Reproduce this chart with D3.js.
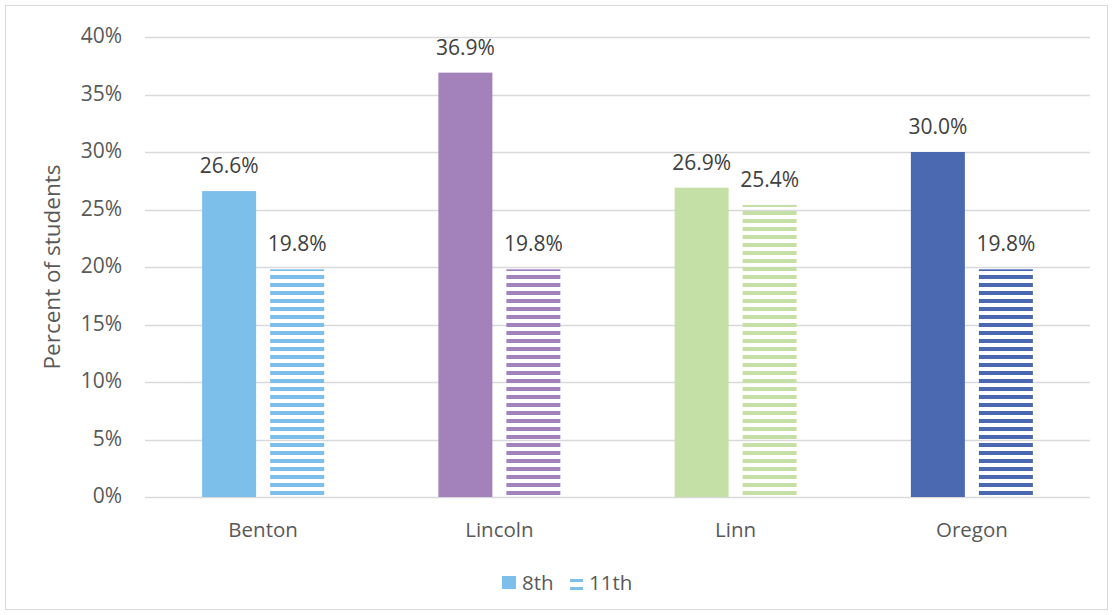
<!DOCTYPE html>
<html>
<head>
<meta charset="utf-8">
<script src="https://cdn.jsdelivr.net/npm/d3@7"></script>
<style>
  body { margin: 0; background: #fff; }
  svg { font-family: "Open Sans", "Liberation Sans", sans-serif; }
</style>
</head>
<body>
<div id="container"></div>
<script>
const counties = ["Benton", "Lincoln", "Linn", "Oregon"];
const grades = ["8th", "11th"];
const values8th = [26.6, 36.9, 26.9, 30.0];
const values11th = [19.8, 19.8, 25.4, 19.8];
const yTicks = [0, 5, 10, 15, 20, 25, 30, 35, 40];
const countyColors = ["#7cbfea", "#a381ba", "#c5e0a6", "#4b69b1"];

const width = 1113, height = 615;
const margin = {top: 37, right: 23, bottom: 118, left: 145};

const svg = d3.select("#container")
  .append("svg")
  .attr("width", width)
  .attr("height", height);

// outer frame
svg.append("rect")
  .attr("x", 5.5).attr("y", 5.5)
  .attr("width", width - 11).attr("height", height - 11)
  .attr("fill", "none")
  .attr("stroke", "#d9d9d9");

const defs = svg.append("defs");
countyColors.forEach((c, i) => {
  const p = defs.append("pattern")
    .attr("id", "stripe" + i)
    .attr("patternUnits", "userSpaceOnUse")
    .attr("x", 0).attr("y", 3)
    .attr("width", 8).attr("height", 8);
  p.append("rect")
    .attr("width", 8).attr("height", 4)
    .attr("fill", c);
});

const x = d3.scaleBand()
  .domain(counties)
  .range([margin.left, width - margin.right]);

const y = d3.scaleLinear()
  .domain([0, 40])
  .range([height - margin.bottom, margin.top]);

const barW = 54, gap = 14;

// gridlines
svg.append("g")
  .selectAll("line")
  .data(yTicks)
  .join("line")
  .attr("x1", margin.left)
  .attr("x2", width - margin.right)
  .attr("y1", d => Math.round(y(d)) + 0.5)
  .attr("y2", d => Math.round(y(d)) + 0.5)
  .attr("stroke", "#d9d9d9")
  .attr("stroke-width", 1.3);

// y axis labels
svg.append("g")
  .selectAll("text")
  .data(yTicks)
  .join("text")
  .attr("x", 122)
  .attr("y", d => y(d))
  .attr("dy", "0.3em")
  .attr("text-anchor", "end")
  .style("font-size", "21px")
  .style("fill", "#595959")
  .text(d => d + "%");

// y axis title
svg.append("text")
  .attr("transform", `translate(60,${(y(0) + y(40)) / 2}) rotate(-90)`)
  .attr("text-anchor", "middle")
  .style("font-size", "22.5px")
  .style("fill", "#595959")
  .text("Percent of students");

const rows = counties.map((c, i) => ({county: c, i, v8: values8th[i], v11: values11th[i]}));

const groups = svg.append("g")
  .selectAll("g")
  .data(rows)
  .join("g")
  .attr("transform", d => `translate(${x(d.county) + (x.bandwidth() - (barW * 2 + gap)) / 2},0)`);

groups.append("rect")
  .attr("x", 0)
  .attr("y", d => y(d.v8))
  .attr("width", barW)
  .attr("height", d => y(0) - y(d.v8))
  .attr("fill", d => countyColors[d.i]);

groups.append("rect")
  .attr("x", barW + gap)
  .attr("y", d => y(d.v11))
  .attr("width", barW)
  .attr("height", d => y(0) - y(d.v11))
  .attr("fill", d => `url(#stripe${d.i})`);

groups.append("text")
  .attr("x", barW / 2)
  .attr("y", d => y(d.v8) - 18)
  .attr("text-anchor", "middle")
  .style("font-size", "21px")
  .style("fill", "#404040")
  .text(d => d.v8.toFixed(1) + "%");

groups.append("text")
  .attr("x", barW + gap + barW / 2)
  .attr("y", d => y(d.v11) - 18)
  .attr("text-anchor", "middle")
  .style("font-size", "21px")
  .style("fill", "#404040")
  .text(d => d.v11.toFixed(1) + "%");

// category labels
svg.append("g")
  .selectAll("text")
  .data(counties)
  .join("text")
  .attr("x", d => x(d) + x.bandwidth() / 2)
  .attr("y", 530)
  .attr("dy", "0.35em")
  .attr("text-anchor", "middle")
  .style("font-size", "20.5px")
  .style("fill", "#595959")
  .text(d => d);

// legend
const legend = svg.append("g").attr("transform", "translate(502,576)");
legend.append("rect")
  .attr("width", 14).attr("height", 13)
  .attr("fill", countyColors[0]);
legend.append("text")
  .attr("x", 20).attr("y", 6.5).attr("dy", "0.35em")
  .style("font-size", "20.5px").style("fill", "#595959")
  .text(grades[0]);
[0, 8].forEach(off => {
  legend.append("rect")
    .attr("x", 68).attr("y", 3 + off)
    .attr("width", 13).attr("height", 3)
    .attr("fill", countyColors[0]);
});
legend.append("text")
  .attr("x", 87).attr("y", 6.5).attr("dy", "0.35em")
  .style("font-size", "20.5px").style("fill", "#595959")
  .text(grades[1]);
</script>
</body>
</html>
